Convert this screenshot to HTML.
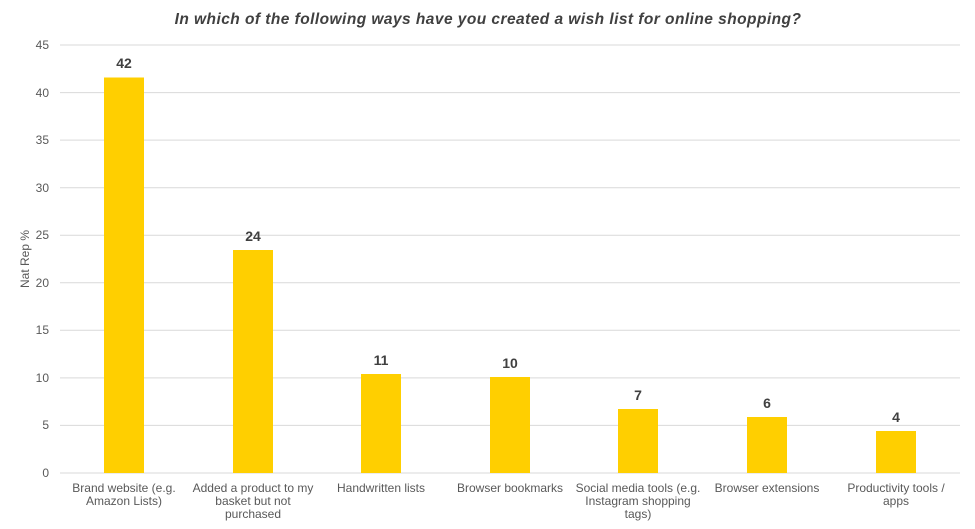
<!DOCTYPE html>
<html><head><meta charset="utf-8"><style>
html,body{margin:0;padding:0;background:#fff;}
svg{display:block;font-family:"Liberation Sans",sans-serif;}
</style></head><body>
<svg width="975" height="529" viewBox="0 0 975 529">
<text x="488" y="24" text-anchor="middle" font-size="15.5" font-weight="bold" font-style="italic" fill="#404040" letter-spacing="0.45">In which of the following ways have you created a wish list for online shopping?</text>
<g stroke="#d9d9d9" stroke-width="1">
<line x1="60" x2="960" y1="45" y2="45"/><line x1="60" x2="960" y1="92.6" y2="92.6"/>
<line x1="60" x2="960" y1="140.1" y2="140.1"/><line x1="60" x2="960" y1="187.7" y2="187.7"/>
<line x1="60" x2="960" y1="235.2" y2="235.2"/><line x1="60" x2="960" y1="282.8" y2="282.8"/>
<line x1="60" x2="960" y1="330.3" y2="330.3"/><line x1="60" x2="960" y1="377.9" y2="377.9"/>
<line x1="60" x2="960" y1="425.4" y2="425.4"/><line x1="60" x2="960" y1="473" y2="473"/>
</g>
<g font-size="12" fill="#595959" text-anchor="end">
<text x="49" y="49">45</text><text x="49" y="97">40</text><text x="49" y="144">35</text>
<text x="49" y="192">30</text><text x="49" y="239">25</text><text x="49" y="287">20</text>
<text x="49" y="334">15</text><text x="49" y="382">10</text><text x="49" y="429">5</text>
<text x="49" y="477">0</text>
</g>
<text transform="translate(29,259) rotate(-90)" text-anchor="middle" font-size="12" fill="#595959">Nat Rep %</text>
<g fill="#ffcf00">
<rect x="104" y="77.5" width="40" height="395.5"/>
<rect x="233" y="250" width="40" height="223"/>
<rect x="361" y="374" width="40" height="99"/>
<rect x="490" y="377" width="40" height="96"/>
<rect x="618" y="409" width="40" height="64"/>
<rect x="747" y="417" width="40" height="56"/>
<rect x="876" y="431" width="40" height="42"/>
</g>
<g font-size="14" font-weight="bold" fill="#404040" text-anchor="middle">
<text x="124" y="68">42</text><text x="253" y="241">24</text><text x="381" y="365">11</text>
<text x="510" y="368">10</text><text x="638" y="400">7</text><text x="767" y="408">6</text>
<text x="896" y="422">4</text>
</g>
<g font-size="12" fill="#595959" text-anchor="middle">
<text x="124" y="492">Brand website (e.g.</text><text x="124" y="505">Amazon Lists)</text>
<text x="253" y="492">Added a product to my</text><text x="253" y="505">basket but not</text><text x="253" y="518">purchased</text>
<text x="381" y="492">Handwritten lists</text>
<text x="510" y="492">Browser bookmarks</text>
<text x="638" y="492">Social media tools (e.g.</text><text x="638" y="505">Instagram shopping</text><text x="638" y="518">tags)</text>
<text x="767" y="492">Browser extensions</text>
<text x="896" y="492">Productivity tools /</text><text x="896" y="505">apps</text>
</g>
</svg>
</body></html>
